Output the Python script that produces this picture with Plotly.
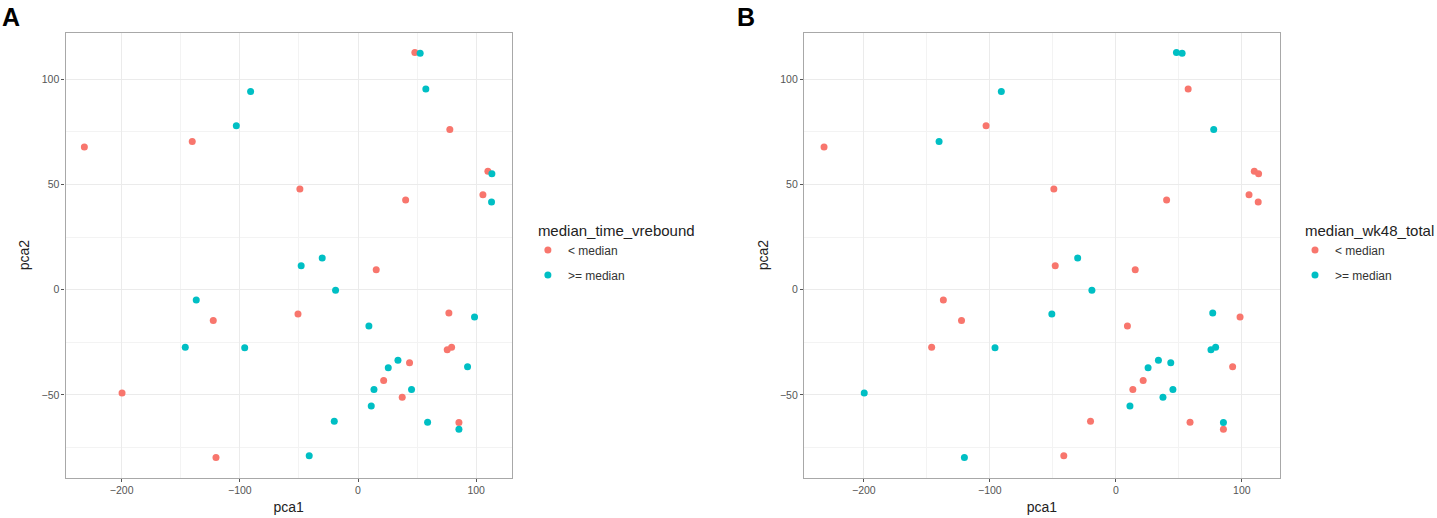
import plotly.graph_objs as go

# ----------------------------
# Data
# ----------------------------
pca1 = [-231.6, -140.3, -103.0, -90.9, 48.1, 52.6, 57.4, 77.7, 109.9, 113.3, 105.7,
        113.0, -49.2, 40.3, -30.3, -48.1, 15.4, -19.0, -50.8, 9.2, 76.9, 98.6,
        75.5, 79.2, 33.8, 43.6, 25.6, 92.7, 21.7, 13.5, 45.3, 37.4, 11.2, -20.1,
        58.9, 85.4, 85.4, -41.3, -136.9, -122.5, -146.2, -95.9, -199.7, -120.2]
pca2 = [67.8, 70.5, 77.9, 94.3, 112.8, 112.4, 95.4, 76.2, 56.3, 55.1, 45.2,
        41.7, 47.9, 42.6, 15.1, 11.4, 9.5, -0.3, -11.5, -17.3, -11.1, -13.0,
        -28.5, -27.4, -33.6, -34.7, -37.1, -36.6, -43.2, -47.4, -47.5, -51.1, -55.3, -62.5,
        -63.0, -63.2, -66.4, -79.0, -4.9, -14.6, -27.4, -27.6, -49.1, -79.8]

# "lt" = "< median", "ge" = ">= median"
median_time_vrebound = ["lt", "lt", "ge", "ge", "lt", "ge", "ge", "lt", "lt", "ge", "lt",
                        "ge", "lt", "lt", "ge", "ge", "lt", "ge", "lt", "ge", "lt", "ge",
                        "lt", "lt", "ge", "lt", "ge", "ge", "lt", "ge", "ge", "lt", "ge", "ge",
                        "ge", "lt", "ge", "ge", "ge", "lt", "ge", "ge", "lt", "lt"]
median_wk48_total = ["lt", "ge", "lt", "ge", "ge", "ge", "lt", "ge", "lt", "lt", "lt",
                     "lt", "lt", "lt", "ge", "lt", "lt", "ge", "ge", "lt", "ge", "lt",
                     "ge", "ge", "ge", "ge", "ge", "lt", "lt", "lt", "ge", "ge", "ge", "lt",
                     "lt", "ge", "lt", "lt", "lt", "lt", "lt", "ge", "ge", "ge"]

levels = ["lt", "ge"]
level_labels = {"lt": "< median", "ge": ">= median"}
level_colors = {"lt": "#F8766D", "ge": "#00BFC4"}

W, H = 1437, 518
FONT = "Liberation Sans, Arial, sans-serif"

# ----------------------------
# Traces
# ----------------------------
fig = go.Figure()

panels = [
    ("x", "y", median_time_vrebound, "legend"),
    ("x2", "y2", median_wk48_total, "legend2"),
]
for xa, ya, groups, leg in panels:
    for lv in levels:
        xs = [x for x, g in zip(pca1, groups) if g == lv]
        ys = [y for y, g in zip(pca2, groups) if g == lv]
        fig.add_trace(go.Scatter(
            x=xs, y=ys, xaxis=xa, yaxis=ya, mode="markers",
            marker=dict(size=7, color=level_colors[lv], line=dict(width=0)),
            name=level_labels[lv], legend=leg, legendgroup=leg + lv,
        ))

# ----------------------------
# Axes
# ----------------------------
def px_dom(a, b, total):
    return [a / total, b / total]

x_range = [-247.5, 130]
y_range = [-89.4, 122.3]
ydom = [(H - 477.7) / H, (H - 32.5) / H]

axis_common = dict(
    showline=True, mirror=True, linecolor="#a8a8a8", linewidth=1.3,
    ticks="outside", ticklen=3, tickwidth=1, tickcolor="#555",
    tickfont=dict(family=FONT, size=10.5, color="#555"),
    showgrid=True, gridcolor="#ebebeb", gridwidth=1, zeroline=False,
    title_font=dict(family=FONT, size=14, color="#222"),
)
xminor = dict(tickvals=[-150, -50, 50], showgrid=True, gridcolor="#f3f3f3", ticks="")
yminor = dict(tickvals=[-75, -25, 25, 75], showgrid=True, gridcolor="#f3f3f3", ticks="")

fig.update_layout(
    xaxis=dict(axis_common, domain=px_dom(65.7, 512.7, W), range=x_range,
               tickvals=[-200, -100, 0, 100], anchor="y", minor=xminor,
               title=dict(text="pca1", standoff=6)),
    yaxis=dict(axis_common, domain=ydom, range=y_range,
               tickvals=[-50, 0, 50, 100], anchor="x", minor=yminor,
               title=dict(text="pca2", standoff=8)),
    xaxis2=dict(axis_common, domain=px_dom(805.7, 1282.3, W), range=x_range,
                tickvals=[-200, -100, 0, 100], anchor="y2", minor=xminor,
                title=dict(text="pca1", standoff=6)),
    yaxis2=dict(axis_common, domain=ydom, range=y_range,
                tickvals=[-50, 0, 50, 100], anchor="x2", minor=yminor,
                title=dict(text="pca2", standoff=8)),
)

# ----------------------------
# Legends
# ----------------------------
legend_common = dict(
    xanchor="left", yanchor="top", bgcolor="rgba(0,0,0,0)",
    font=dict(family=FONT, size=12, color="#333"),
    title_font=dict(family=FONT, size=15, color="#222"),
    tracegroupgap=6, traceorder="grouped", indentation=-8,
)
fig.update_layout(
    legend=dict(legend_common, x=537 / W, y=(H - 216) / H,
                title_text="median_time_vrebound"),
    legend2=dict(legend_common, x=1306 / W, y=(H - 216) / H,
                 title_text="median_wk48_total"),
)

# Panel letters
fig.add_annotation(text="<b>A</b>", x=0, y=1, xref="paper", yref="paper",
                   xanchor="left", yanchor="top", showarrow=False, yshift=-1,
                   font=dict(family=FONT, size=25, color="#000"))
fig.add_annotation(text="<b>B</b>", x=737 / W, y=1, xref="paper", yref="paper",
                   xanchor="left", yanchor="top", showarrow=False, yshift=-1,
                   font=dict(family=FONT, size=25, color="#000"))

fig.update_layout(
    width=W, height=H,
    margin=dict(l=0, r=0, t=0, b=0),
    paper_bgcolor="white", plot_bgcolor="white",
    font=dict(family=FONT),
)

# page body margin would push the figure 8px off; drop it
fig.write_html("out.html", config={"displayModeBar": False},
               post_script="document.body.style.margin='0px';")
